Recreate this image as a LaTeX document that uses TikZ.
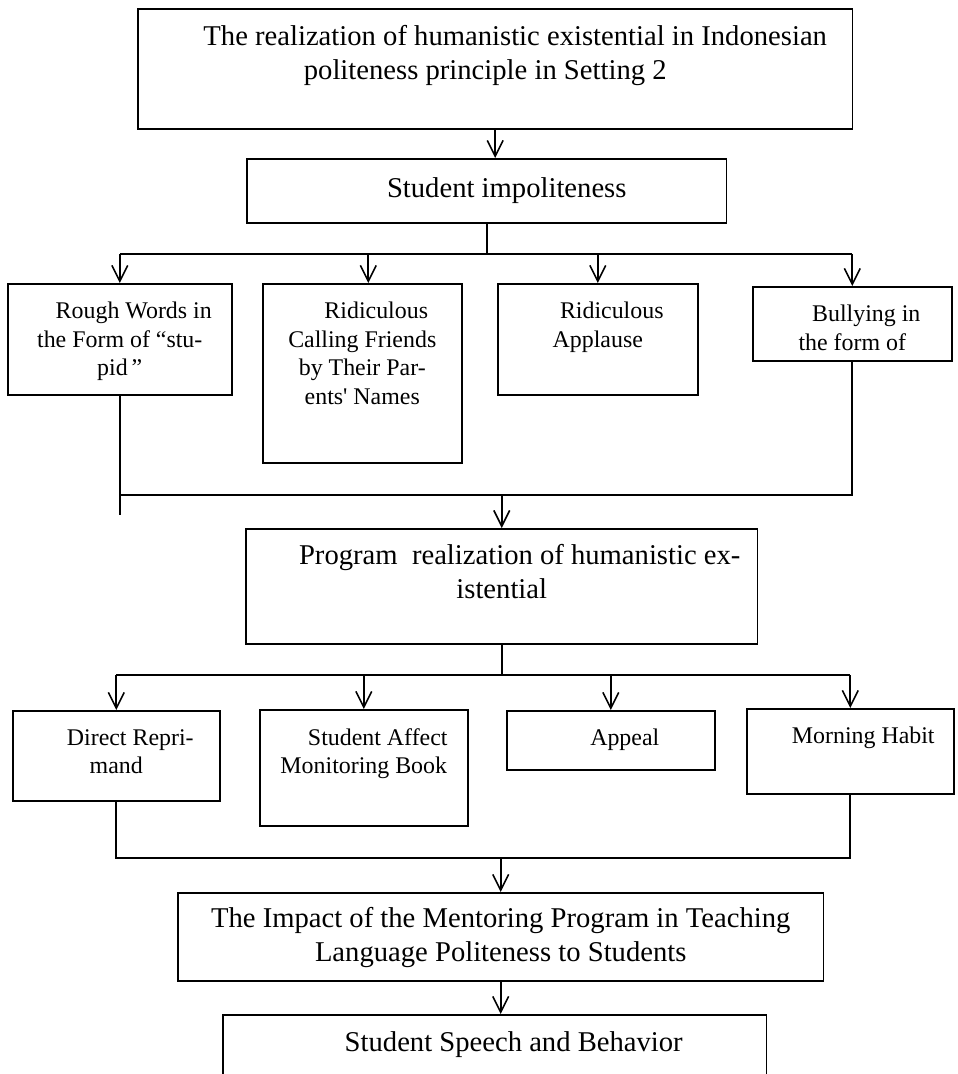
\documentclass[tikz,border=0pt]{standalone}
\usepackage{fontspec}
\setmainfont{Liberation Serif}
\usetikzlibrary{arrows.meta}

\begin{document}
\begin{tikzpicture}[x=0.02cm, y=-0.02cm]
  \tikzset{
    box/.style={draw, line width=0.9pt, anchor=north west, inner sep=0pt},
    txt/.style={anchor=north, align=center, inner sep=0pt,
      font=\fontsize{13.6}{16.2}\selectfont},
    bigtxt/.style={txt, font=\fontsize{16.3}{19.6}\selectfont},
    link/.style={line width=0.9pt},
    arr/.style={link, -{Straight Barb[length=9pt, width=9pt]}}
  }
  \useasboundingbox (0,0) rectangle (957,1074);
  \clip (0,0) rectangle (957,1074);

  % top of the chart
  \node[box, minimum width=14.30cm, minimum height=2.40cm] (top) at (137,8) {};
  \node[bigtxt, xshift=-0.2cm, yshift=-0.34cm] (ttop) at (top.north)
    {\hspace*{1.2cm}The realization of humanistic existential in Indonesian\\politeness principle in Setting 2};
  \node[box, minimum width=9.60cm, minimum height=1.28cm] (imp) at (246,158) {};
  \node[bigtxt, yshift=-0.38cm] (timp) at (imp.north)
    {\hspace*{0.8cm}Student impoliteness};

  % kinds of impoliteness
  \node[box, minimum width=4.48cm, minimum height=2.22cm] (b1) at (7,283) {};
  \node[box, minimum width=3.98cm, minimum height=3.58cm] (b2) at (262,283) {};
  \node[box, minimum width=4.00cm, minimum height=2.22cm] (b3) at (497,283) {};
  \node[box, minimum width=3.98cm, minimum height=1.48cm] (b4) at (752,286) {};
  \node[txt, yshift=-0.38cm] (tb1) at (b1.north)
    {\hspace*{0.56cm}Rough Words in\\the Form of “stu-\\pid\,”};
  \node[txt, yshift=-0.38cm] (tb2) at (b2.north)
    {\hspace*{0.56cm}Ridiculous\\Calling Friends\\by Their Par-\\ents\textquotesingle{} Names};
  \node[txt, yshift=-0.38cm] (tb3) at (b3.north)
    {\hspace*{0.56cm}Ridiculous\\Applause};
  \node[txt, yshift=-0.38cm] (tb4) at (b4.north)
    {\hspace*{0.56cm}Bullying in\\the form of};

  % program
  \node[box, minimum width=10.24cm, minimum height=2.30cm] (prog) at (245,528) {};
  \node[bigtxt, yshift=-0.32cm] (tprog) at (prog.north)
    {\hspace*{0.72cm}Program\ \ realization of humanistic ex-\\istential};

  % kinds of program
  \node[box, minimum width=4.14cm, minimum height=1.80cm] (c1) at (12,710) {};
  \node[box, minimum width=4.16cm, minimum height=2.32cm] (c2) at (259,709) {};
  \node[box, minimum width=4.16cm, minimum height=1.18cm] (c3) at (506,710) {};
  \node[box, minimum width=4.14cm, minimum height=1.70cm] (c4) at (746,708) {};
  \node[txt, yshift=-0.38cm] (tc1) at (c1.north)
    {\hspace*{0.56cm}Direct Repri-\\mand};
  \node[txt, yshift=-0.38cm] (tc2) at (c2.north)
    {\hspace*{0.56cm}Student Affect\\Monitoring Book};
  \node[txt, yshift=-0.38cm] (tc3) at (c3.north)
    {\hspace*{0.56cm}Appeal};
  \node[txt, yshift=-0.38cm] (tc4) at (c4.north)
    {\hspace*{0.52cm}Morning Habit};

  % impact and result
  \node[box, minimum width=12.92cm, minimum height=1.76cm] (impact) at (177,892) {};
  \node[bigtxt, yshift=-0.30cm] (timpact) at (impact.north)
    {The Impact of the Mentoring Program in Teaching\\Language Politeness to Students};
  \node[box, minimum width=10.88cm, minimum height=2.00cm] (final) at (222,1014) {};
  \node[bigtxt, yshift=-0.34cm] (tfinal) at (final.north)
    {\hspace*{0.76cm}Student Speech and Behavior};

  % connectors
  \coordinate (fork1) at (486,254);
  \coordinate (join1) at (499,495);
  \coordinate (tail1) at (119,515);
  \coordinate (fork2) at (501,675);
  \coordinate (join2) at (499,858);

  \draw[arr] (top.south) -- (top.south |- imp.north);
  \draw[link] (imp.south) -- (imp.south |- fork1);
  \draw[link] (fork1 -| b1.north) -- (fork1 -| b4.north);
  \foreach \b in {b1,b3,b4}
    \draw[arr] (fork1 -| \b.north) -- (\b.north);
  \draw[arr] ([xshift=0.12cm]fork1 -| b2.north) -- ([xshift=0.12cm]b2.north);

  \draw[link] (b1.south) -- (b1.south |- tail1);
  \draw[link] (b4.south) -- (join1 -| b4.south) -- (join1 -| b1.south);
  \draw[arr] (prog.north |- join1) -- (prog.north);

  \draw[link] (prog.south) -- (prog.south |- fork2);
  \draw[link] (fork2 -| c1.north) -- (fork2 -| c4.north);
  \foreach \c in {c1,c2,c3,c4}
    \draw[arr] (fork2 -| \c.north) -- (\c.north);

  \draw[link] (c1.south) -- (join2 -| c1.south) -- (join2 -| c4.south) -- (c4.south);
  \draw[arr] (impact.north |- join2) -- (impact.north);
  \draw[arr] (impact.south) -- (impact.south |- final.north);
\end{tikzpicture}
\end{document}
